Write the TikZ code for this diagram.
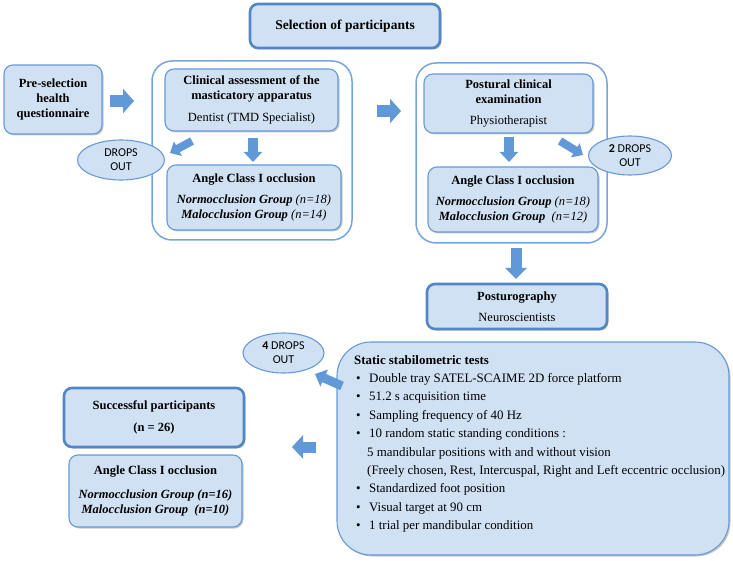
\documentclass[tikz,border=0pt]{standalone}
\usepackage{fontspec}
\setmainfont{Liberation Serif}
\newfontfamily\carlito{Carlito}
\usetikzlibrary{shapes.geometric,arrows.meta,shadows}
\definecolor{fillc}{RGB}{209,225,244}
\definecolor{bordc}{RGB}{104,155,214}
\definecolor{bordd}{RGB}{84,134,196}
\definecolor{arrc}{RGB}{96,152,216}
\definecolor{contc}{RGB}{118,165,221}
\tikzset{
  shad/.style={drop shadow={shadow xshift=1.5pt,shadow yshift=-1.5pt,fill=black,opacity=0.22}},
  box/.style={draw=bordc, fill=fillc, rounded corners=9pt, line width=1.1pt, align=center,
    inner sep=0pt, font=\fontsize{12.5}{15}\selectfont, shad},
  tbox/.style={box, draw=bordd, line width=2.6pt, rounded corners=8pt},
  cont/.style={draw=contc, line width=1.5pt, rounded corners=20pt, fill=white, inner sep=0pt},
  dropnode/.style={ellipse, draw=bordc, fill=fillc, line width=1.1pt, align=center, inner sep=0pt,
    font=\carlito\fontsize{12}{14}\selectfont},
  barrow/.style={draw=arrc, line width=#1},
  barrow/.default=11pt
}
\begin{document}
\begin{tikzpicture}[x=1pt,y=-1pt]
\useasboundingbox[fill=white] (0,0) rectangle (733,561);

% containers
\node[cont, minimum width=200pt, minimum height=179pt] (cont1) at (252,150.5) {};
\node[cont, minimum width=191pt, minimum height=180pt] (cont2) at (511.5,153) {};

% title boxes
\node[tbox, minimum width=190pt, minimum height=44pt, font=\fontsize{13.5}{16}\selectfont\bfseries] (sel) at (345,26) {Selection of participants};

\node[box, minimum width=98pt, minimum height=69pt, font=\fontsize{12.5}{15}\selectfont\bfseries] (pre) at (53,99.5) {Pre-selection\\health\\questionnaire};

\node[box, minimum width=173pt, minimum height=62pt] (clin) at (251.5,100)
  {\textbf{Clinical assessment of the}\\\textbf{masticatory apparatus}\\[7pt]Dentist (TMD Specialist)};

\node[box, minimum width=174pt, minimum height=65pt] (ang1) at (254,197.5)
  {\textbf{Angle Class I occlusion}\\[6pt]\textbf{\textit{Normocclusion Group}} \textit{(n=18)}\\\textbf{\textit{Malocclusion Group}} \textit{(n=14)}};

\node[box, minimum width=169pt, minimum height=59pt] (post) at (508.5,103.5)
  {\textbf{Postural clinical}\\\textbf{examination}\\[6pt]Physiotherapist};

\node[box, minimum width=170pt, minimum height=65pt] (ang2) at (513,199.5)
  {\textbf{Angle Class I occlusion}\\[6pt]\textbf{\textit{Normocclusion Group}} \textit{(n=18)}\\\textbf{\textit{Malocclusion Group}}\ \ \textit{(n=12)}};

\node[tbox, minimum width=180pt, minimum height=45pt] (posturo) at (517,306.5)
  {\textbf{Posturography}\\[6pt]Neuroscientists};

\node[box, rounded corners=34pt, minimum width=392pt, minimum height=213pt] (static) at (533,448.5) {};
\node[anchor=base west, inner sep=0pt, font=\fontsize{12.9}{18.4}\selectfont] (statictext) at (354,364)
  {\begin{tabular}[t]{@{}l@{}}
   \textbf{Static stabilometric tests}\\
   \hspace*{2pt}\makebox[13pt][l]{\textbullet}Double tray SATEL-SCAIME 2D force platform\\
   \hspace*{2pt}\makebox[13pt][l]{\textbullet}51.2 s acquisition time\\
   \hspace*{2pt}\makebox[13pt][l]{\textbullet}Sampling frequency of 40 Hz\\
   \hspace*{2pt}\makebox[13pt][l]{\textbullet}10 random static standing conditions :\\
   \hspace*{13pt}5 mandibular positions with and without vision\\
   \hspace*{13pt}(Freely chosen, Rest, Intercuspal, Right and Left eccentric occlusion)\\
   \hspace*{2pt}\makebox[13pt][l]{\textbullet}Standardized foot position\\
   \hspace*{2pt}\makebox[13pt][l]{\textbullet}Visual target at 90 cm\\
   \hspace*{2pt}\makebox[13pt][l]{\textbullet}1 trial per mandibular condition
  \end{tabular}};

\node[tbox, minimum width=180pt, minimum height=59pt, font=\fontsize{12.5}{15}\selectfont\bfseries] (succ) at (154,417.5)
  {Successful participants\\[7pt](n = 26)};

\node[box, minimum width=173pt, minimum height=72pt] (ang3) at (155.5,491)
  {\textbf{Angle Class I occlusion}\\[9pt]\textbf{\textit{Normocclusion Group (n=16)}}\\\textbf{\textit{Malocclusion Group}}\ \ \textbf{\textit{(n=10)}}};

% drops out ellipses
\node[dropnode, minimum width=87pt, minimum height=40pt] (drop1) at (121,160) {DROPS\\OUT};
\node[dropnode, minimum width=83pt, minimum height=39pt] (drop2) at (630,155.5) {\textbf{2} DROPS\\OUT};
\node[dropnode, minimum width=81pt, minimum height=40pt] (drop3) at (283.5,353) {\textbf{4} DROPS\\OUT};

% arrow end points
\coordinate (a1s) at (110,101);  \coordinate (a1e) at (134,101);
\coordinate (a2s) at (377,111);  \coordinate (a2e) at (401,111);
\coordinate (a3s) at (253,138);  \coordinate (a3e) at (253,162);
\coordinate (a4s) at (192,141);  \coordinate (a4e) at (170,153);
\coordinate (a5s) at (509,137);  \coordinate (a5e) at (509,162);
\coordinate (a6s) at (560,141);  \coordinate (a6e) at (583,155);
\coordinate (a7s) at (516,248);  \coordinate (a7e) at (516,279);
\coordinate (a8s) at (342,386);  \coordinate (a8e) at (315,374);
\coordinate (a9s) at (316,447);  \coordinate (a9e) at (292,447);

\draw[barrow=12pt, -{Triangle[width=24pt,length=11pt]}] (a1s) -- (a1e);
\draw[barrow=12pt, -{Triangle[width=24pt,length=11pt]}] (a2s) -- (a2e);
\draw[barrow=10pt, -{Triangle[width=18pt,length=10pt]}] (a3s) -- (a3e);
\draw[barrow=8pt, -{Triangle[width=16pt,length=9pt]}] (a4s) -- (a4e);
\draw[barrow=10pt, -{Triangle[width=18pt,length=10pt]}] (a5s) -- (a5e);
\draw[barrow=8pt, -{Triangle[width=16pt,length=9pt]}] (a6s) -- (a6e);
\draw[barrow=11pt, -{Triangle[width=21pt,length=11pt]}] (a7s) -- (a7e);
\draw[barrow=9pt, -{Triangle[width=18pt,length=10pt]}] (a8s) -- (a8e);
\draw[barrow=11pt, -{Triangle[width=23pt,length=11pt]}] (a9s) -- (a9e);
\end{tikzpicture}
\end{document}
